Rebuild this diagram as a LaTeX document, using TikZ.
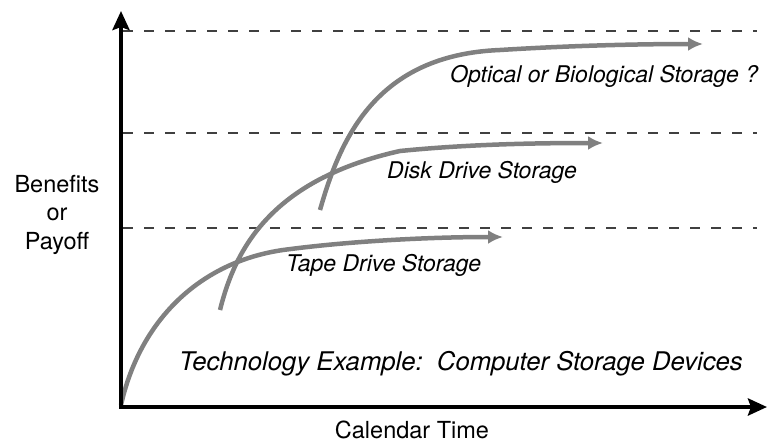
\documentclass[tikz,border=0pt]{standalone}
\usepackage{fontspec}
\setmainfont{TeX Gyre Heros}
\usetikzlibrary{arrows.meta}
\begin{document}
\begin{tikzpicture}[x=1pt,y=-1pt,
  axis/.style={line width=4.5pt, black, -{Stealth[length=19pt,width=17pt,inset=3pt]}},
  level/.style={line width=2.7pt, black!75, dash pattern=on 10pt off 11pt},
  growth/.style={line width=4.5pt, black!50, -{Latex[length=15pt,width=14pt]}},
  lbl/.style={font=\fontsize{23}{27}\selectfont\itshape, anchor=base west, inner sep=0pt},
  axlbl/.style={font=\fontsize{23.5}{28}\selectfont, anchor=base, inner sep=0pt}]
\useasboundingbox (0,0) rectangle (769,442);
% axes
\coordinate (origin) at (121,407);
\coordinate (ytip) at (121,11);
\coordinate (xstart) at (119,407);
\coordinate (xtip) at (767,407);
% level lines
\coordinate (l1a) at (123,31);  \coordinate (l1b) at (757,31);
\coordinate (l2a) at (123,133); \coordinate (l2b) at (757,133);
\coordinate (l3a) at (123,228); \coordinate (l3b) at (757,228);
\draw[level] (l1a) -- (l1b);
\draw[level] (l2a) -- (l2b);
\draw[level] (l3a) -- (l3b);
% growth curves
\coordinate (t0) at (121,405); \coordinate (t1) at (283,250); \coordinate (t2) at (503,237);
\coordinate (d0) at (220,310); \coordinate (d1) at (400,151); \coordinate (d2) at (603,143);
\coordinate (o0) at (320,210); \coordinate (o1) at (500,50);  \coordinate (o2) at (703,44);
\draw[growth] (t0) .. controls (140,320) and (200,262) .. (t1) .. controls (350,241) and (430,237) .. (t2);
\draw[growth] (d0) .. controls (235,250) and (270,180) .. (d1) .. controls (470,144) and (540,143) .. (d2);
\draw[growth] (o0) .. controls (340,140) and (375,55) .. (o1) .. controls (580,45) and (650,44) .. (o2);
\draw[axis] (origin) -- (ytip);
\draw[axis] (xstart) -- (xtip);
% labels
\node[lbl] (optical) at (450,82) {Optical or Biological Storage ?};
\node[lbl] (disk) at (387,178) {Disk Drive Storage};
\node[lbl] (tape) at (286,271) {Tape Drive Storage};
\node[lbl, font=\fontsize{25.7}{30}\selectfont\itshape] (example) at (179,370) {Technology Example:\ \ Computer Storage Devices};
\node[axlbl] (ben) at (57,192) {Benefits};
\node[axlbl] (or) at (57,220) {or};
\node[axlbl] (pay) at (57,249) {Payoff};
\node[axlbl] (cal) at (412,438) {Calendar Time};
\end{tikzpicture}
\end{document}
